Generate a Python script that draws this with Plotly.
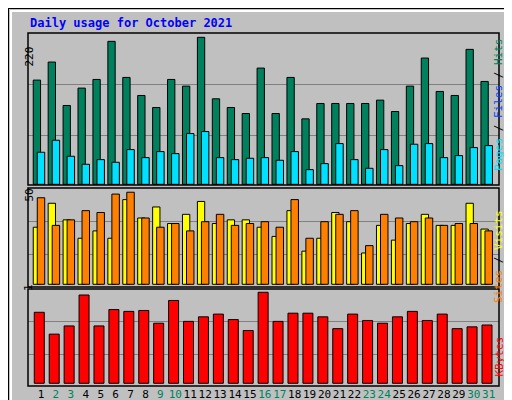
import plotly.graph_objects as go

days = list(range(1, 32))
hits = [156,183,118,144,157,214,160,133,115,157,147,220,128,115,106,174,106,160,98,121,121,121,121,126,109,147,189,139,133,202,154]
pages = [48,66,42,30,37,33,52,40,49,46,76,79,40,37,39,40,36,49,22,31,61,37,24,52,28,60,61,40,43,55,58]
visits = [31,44,35,25,29,25,46,36,42,33,38,45,33,35,35,31,26,40,18,25,39,34,17,32,24,33,38,32,32,44,30]
sites = [47,32,35,40,39,49,50,36,31,33,29,34,38,32,33,34,31,46,25,34,38,40,21,38,36,34,36,32,33,33,29]
kbytes = [.78,.54,.63,.97,.63,.81,.79,.80,.66,.91,.68,.73,.76,.70,.58,1.0,.68,.77,.77,.73,.60,.76,.69,.66,.73,.79,.69,.76,.60,.62,.64]
weekend = {2,3,9,10,16,17,23,24,30,31}
ticktext = [f'<span style="color:{"#00805C" if d in weekend else "black"}">{d}</span>' for d in days]

W, H = 512, 400
def py(p): return 1 - p / H

fig = go.Figure()
line = dict(color="black", width=1)
fig.add_bar(x=days, y=hits, marker=dict(color="#00805C", line=line), offset=-0.52, width=0.49, xaxis="x", yaxis="y3")
fig.add_bar(x=days, y=pages, marker=dict(color="#00E0FF", line=line), offset=-0.25, width=0.5, xaxis="x", yaxis="y3")
fig.add_bar(x=days, y=visits, marker=dict(color="#FFFF00", line=line), offset=-0.52, width=0.49, xaxis="x", yaxis="y2")
fig.add_bar(x=days, y=sites, marker=dict(color="#FF8000", line=line), offset=-0.25, width=0.5, xaxis="x", yaxis="y2")
fig.add_bar(x=days, y=kbytes, marker=dict(color="#FF0000", line=line), offset=-0.45, width=0.67, xaxis="x", yaxis="y")

grid = dict(showgrid=True, gridcolor="#808080", gridwidth=1, zeroline=False, showticklabels=False, ticks="",
            tickmode="array", automargin=False)
fig.update_layout(
    width=W, height=H, margin=dict(l=0, r=0, t=0, b=0, pad=0),
    paper_bgcolor="#C0C0C0", plot_bgcolor="#C0C0C0", showlegend=False, barmode="overlay",
    font=dict(family="DejaVu Sans Mono", size=11, color="black"),
    xaxis=dict(domain=[20/W, 491/W], range=[0.129, 31.69], tickmode="array", tickvals=days, ticktext=ticktext,
               showgrid=False, zeroline=False, ticks="", anchor="y", tickangle=0, automargin=False,
               tickfont=dict(size=11)),
    yaxis=dict(domain=[py(378), py(281)], range=[-0.03, 1.036], tickvals=[0.319, 0.681], **grid),
    yaxis2=dict(domain=[py(279), py(180)], range=[-1.47, 52.3], tickvals=[16.3, 34.2], **grid),
    yaxis3=dict(domain=[py(177), py(25)], range=[-1, 226.5], tickvals=[73.5, 149], **grid),
)
shapes = []
for top, bot in [(25, 177), (180, 279), (281, 378)]:
    shapes.append(dict(type="rect", xref="paper", yref="paper", x0=20/W, x1=491/W, y0=py(bot), y1=py(top),
                       line=dict(color="black", width=1.5)))
shapes.append(dict(type="rect", xref="paper", yref="paper", x0=505/W, x1=1, y0=0, y1=1, fillcolor="#808080", line_width=0, layer="below"))
shapes.append(dict(type="rect", xref="paper", yref="paper", x0=0, x1=1, y0=0, y1=7/H, fillcolor="#808080", line_width=0, layer="below"))
shapes.append(dict(type="rect", xref="paper", yref="paper", x0=0, x1=1, y0=0, y1=1, line=dict(color="black", width=2)))
shapes.append(dict(type="line", xref="paper", yref="paper", x0=2/W, x1=505/W, y0=py(3), y1=py(3), line=dict(color="white", width=2)))
shapes.append(dict(type="line", xref="paper", yref="paper", x0=3/W, x1=3/W, y0=7/H, y1=py(3), line=dict(color="white", width=2)))
fig.update_layout(shapes=shapes)

ann = [
    dict(text="<b>Daily usage for October 2021</b>", x=20/W, y=py(15), xanchor="left", yanchor="middle",
         font=dict(color="#0000FF", size=12)),
    dict(text="220", x=12/W, y=py(37), textangle=-90, font=dict(size=11)),
    dict(text="50", x=12/W, y=py(187), textangle=-90, font=dict(size=11)),
    dict(text="1", x=12/W, y=py(285), textangle=-90, font=dict(size=11)),
    dict(text='<span style="color:#00E0FF">Pages</span> / <span style="color:#0040FF">Files</span> / <span style="color:#00805C">Hits</span>',
         x=499/W, y=py(28), yanchor="top", textangle=-90, font=dict(size=11)),
    dict(text='<span style="color:#FF8000">Sites</span> / <span style="color:#FFFF00">Visits</span>',
         x=499/W, y=py(200), yanchor="top", textangle=-90, font=dict(size=11)),
    dict(text='<span style="color:#FF0000">KBytes</span>',
         x=499/W, y=py(327), yanchor="top", textangle=-90, font=dict(size=11)),
]
for a in ann:
    a.update(xref="paper", yref="paper", showarrow=False)
fig.update_layout(annotations=ann)
fig.write_html("out.html")
